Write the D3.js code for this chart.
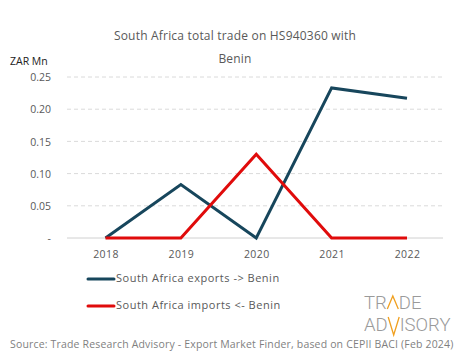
<!DOCTYPE html>
<html>
<head>
<meta charset="utf-8">
<script src="https://cdn.jsdelivr.net/npm/d3@7"></script>
<style>
body{margin:0;background:#fff;}
svg{display:block;font-family:"Open Sans",sans-serif;}
</style>
</head>
<body>
<div id="chart"></div>
<script>
const years = ["2018","2019","2020","2021","2022"];
const exportsVals = [0, 0.083, 0, 0.233, 0.217];
const importsVals = [0, 0, 0.130, 0, 0];
const yTicks = [0, 0.05, 0.10, 0.15, 0.20, 0.25];
const seriesNames = ["South Africa exports -> Benin", "South Africa imports <- Benin"];
const seriesColors = ["#17465c", "#e00b0b"];

const W = 465, H = 359;
const svg = d3.select("#chart").append("svg").attr("width", W).attr("height", H);

const x = d3.scalePoint().domain(years).range([105.5, 407]);
const y = d3.scaleLinear().domain([0, 0.25]).range([238, 77]);

// title
const title = svg.append("text").attr("x", 235).attr("text-anchor", "middle")
  .attr("fill", "#595959").attr("font-size", 12).attr("letter-spacing", 0.2);
title.append("tspan").attr("x", 235).attr("y", 40).text("South Africa total trade on HS940360 with");
title.append("tspan").attr("x", 235).attr("y", 63).text("Benin");

svg.append("text").attr("x", 10).attr("y", 65).attr("fill", "#222").attr("font-size", 10.5).text("ZAR Mn");

// grid
const grid = svg.append("g");
grid.selectAll("line").data(yTicks).join("line")
  .attr("x1", 67).attr("x2", 443)
  .attr("y1", d => y(d)).attr("y2", d => y(d))
  .attr("stroke", d => d === 0 ? "#d0d0d0" : "#dadada")
  .attr("stroke-width", 1)
  .attr("stroke-dasharray", d => d === 0 ? null : "4,3");

// y axis labels
const yAxis = d3.axisLeft(y).tickValues(yTicks).tickSize(0).tickPadding(0)
  .tickFormat(d => d === 0 ? "-" : d3.format(".2f")(d));
const ya = svg.append("g").attr("transform", "translate(51,0)").call(yAxis);
ya.select(".domain").remove();
ya.selectAll("text").attr("fill", "#595959").attr("font-size", 10.5).attr("font-family", "Open Sans, sans-serif").attr("dy", "0.35em");

// x axis labels
const xAxis = d3.axisBottom(x).tickSize(0).tickPadding(0);
const xa = svg.append("g").attr("transform", "translate(0,251)").call(xAxis);
xa.select(".domain").remove();
xa.selectAll("text").attr("fill", "#595959").attr("font-size", 10.5).attr("letter-spacing", 0.4).attr("font-family", "Open Sans, sans-serif");

// lines
const line = d3.line().x((d, i) => x(years[i])).y(d => y(d));
[exportsVals, importsVals].forEach((vals, k) => {
  svg.append("path").datum(vals).attr("d", line)
    .attr("fill", "none").attr("stroke", seriesColors[k]).attr("stroke-width", 3)
    .attr("stroke-linejoin", "miter");
});

// legend
const legY = [279, 306];
seriesNames.forEach((n, k) => {
  svg.append("line").attr("x1", 88).attr("x2", 114).attr("y1", legY[k]).attr("y2", legY[k])
    .attr("stroke", seriesColors[k]).attr("stroke-width", 3).attr("stroke-linecap", "round");
  svg.append("text").attr("x", 116).attr("y", legY[k] + 3).attr("fill", "#595959")
    .attr("font-size", 11).attr("letter-spacing", 0.5).text(n);
});

// logo: grey letters with an orange zig-zag standing for the A and V
const logo = svg.append("g").attr("font-family", "Roboto, sans-serif").attr("font-weight", 300)
  .attr("font-size", 18.5).attr("fill", "#9a9a9a");
function seg(txt, xPos, yPos) {
  const t = logo.append("text").attr("x", xPos).attr("y", yPos).text(txt);
  return xPos + t.node().getComputedTextLength();
}
const orange = "#f0a020";
// line 1: TR Λ DE
let cx = seg("TR", 364, 309);
const aW = 12;
logo.append("path").attr("d", `M${cx+0.5},309 L${cx+aW/2},296 L${cx+aW-0.5},309`)
  .attr("fill", "none").attr("stroke", orange).attr("stroke-width", 1.3);
seg("DE", cx + aW, 309);
// line 2: AD V ISORY
let cx2 = seg("AD", 364, 331);
const vW = 12;
logo.append("path").attr("d", `M${cx2+0.5},317 L${cx2+vW/2},335 L${cx2+vW-0.5},317`)
  .attr("fill", "none").attr("stroke", orange).attr("stroke-width", 1.3);
seg("ISORY", cx2 + vW, 331);

// source
svg.append("text").attr("x", 10).attr("y", 348).attr("fill", "#7f7f7f").attr("font-size", 10.5)
  .attr("letter-spacing", 0.17)
  .text("Source: Trade Research Advisory - Export Market Finder, based on CEPII BACI (Feb 2024)");
</script>
</body>
</html>
